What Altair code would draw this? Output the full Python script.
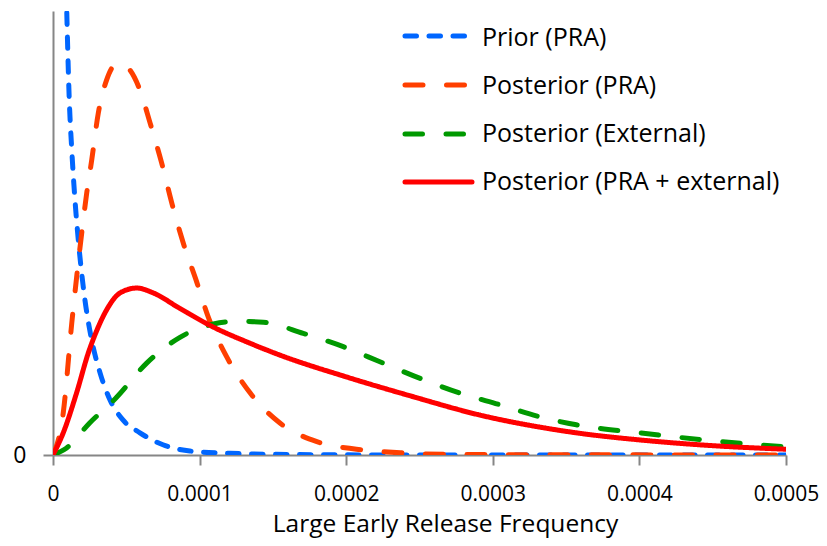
import altair as alt
import pandas as pd

# x values are in units of 1e-4 (scaled below), y in relative density units
prior_x = [0.09, 0.111, 0.128, 0.150, 0.179, 0.218, 0.264, 0.321, 0.389, 0.477, 0.593, 0.750, 0.934, 1.207, 1.68, 2.5, 5.0]
prior_y = [1.05, 0.80, 0.687, 0.574, 0.462, 0.349, 0.259, 0.185, 0.124, 0.079, 0.050, 0.023, 0.009, 0.004, 0.001, 0.0, 0.0]

post_pra_x = [0, 0.07, 0.128, 0.161, 0.196, 0.23, 0.264, 0.309, 0.366, 0.423, 0.48, 0.525, 0.593, 0.662, 0.741, 0.81, 0.889, 0.98, 1.06, 1.185, 1.344, 1.548, 1.80, 2.07, 2.37, 2.8, 5.0]
post_pra_y = [0, 0.095, 0.297, 0.40, 0.50, 0.59, 0.664, 0.77, 0.845, 0.878, 0.88, 0.867, 0.822, 0.748, 0.658, 0.568, 0.477, 0.39, 0.31, 0.221, 0.14, 0.072, 0.03, 0.013, 0.005, 0.001, 0.0]

post_ext_x = [0, 0.093, 0.25, 0.434, 0.639, 0.866, 1.094, 1.25, 1.435, 1.707, 1.98, 2.23, 2.50, 2.78, 3.05, 3.32, 3.57, 4.0, 4.5, 5.0]
post_ext_y = [0, 0.016, 0.072, 0.13, 0.207, 0.265, 0.295, 0.301, 0.299, 0.274, 0.244, 0.21, 0.173, 0.139, 0.113, 0.086, 0.068, 0.05, 0.032, 0.018]

post_all_x = [0, 0.07, 0.161, 0.241, 0.298, 0.366, 0.457, 0.571, 0.684, 0.866, 1.094, 1.32, 1.548, 2.0, 2.46, 2.91, 3.37, 3.59, 4.0, 4.5, 5.0]
post_all_y = [0, 0.05, 0.14, 0.23, 0.28, 0.327, 0.365, 0.376, 0.365, 0.33, 0.288, 0.255, 0.225, 0.176, 0.131, 0.09, 0.06, 0.049, 0.034, 0.021, 0.013]

series_names = ["Prior (PRA)", "Posterior (PRA)", "Posterior (External)", "Posterior (PRA + external)"]
series_colors = ["#0066FF", "#FF3F00", "#009900", "#FF0000"]
series_dashes = [[11.5, 12.5], [18, 23.5], [17.5, 23.5], [1, 0]]
x_ticks = [0, 0.0001, 0.0002, 0.0003, 0.0004, 0.0005]

FONT = "Open Sans"

xs = [prior_x, post_pra_x, post_ext_x, post_all_x]
ys = [prior_y, post_pra_y, post_ext_y, post_all_y]

x_scale = alt.Scale(domain=[0, 0.0005], nice=False, zero=True)
y_scale = alt.Scale(domain=[0, 1], nice=False)

x_axis = alt.Axis(values=x_ticks, labelExpr="datum.value == 0 ? '0' : format(datum.value, '.4f')",
                  title="Large Early Release Frequency", grid=False, domainColor="#868686",
                  domainWidth=2, tickColor="#868686", tickWidth=2, tickSize=10,
                  labelFont=FONT, labelFontSize=21, labelColor="black", labelPadding=18,
                  titleFont=FONT, titleFontSize=24.5, titleFontWeight="normal", titleColor="black",
                  titlePadding=8, titleX=392, titleAlign="center",
                  labelFlush=False, labelOverlap=False)
y_axis = alt.Axis(values=[0], labelExpr="'0'", title=None, grid=False, domainColor="#868686",
                  domainWidth=2, tickColor="#868686", tickWidth=2, tickSize=10,
                  labelFont=FONT, labelFontSize=23, labelColor="black", labelPadding=17)

layers = []
for i, name in enumerate(series_names):
    df = pd.DataFrame({"x": [v * 1e-4 for v in xs[i]], "y": ys[i], "series": name})
    layers.append(
        alt.Chart(df).mark_line(interpolate="monotone", clip=True, strokeWidth=5,
                                strokeCap="round", color=series_colors[i],
                                strokeDash=series_dashes[i]).encode(
            x=alt.X("x:Q", scale=x_scale, axis=x_axis),
            y=alt.Y("y:Q", scale=y_scale, axis=y_axis))
    )

# manual legend
legend_line_y = [25, 74, 123, 171]
legend_text_y = [35, 83, 131, 179]
legend_df = pd.DataFrame({"series": series_names})
for i, name in enumerate(series_names):
    ldf = legend_df.iloc[[i]]
    x2 = 419 if series_dashes[i] == [1, 0] else 413
    layers.append(
        alt.Chart(ldf).mark_rule(strokeWidth=5, strokeCap="round", color=series_colors[i],
                                 strokeDash=series_dashes[i]).encode(
            x=alt.value(352), x2=alt.value(x2), y=alt.value(legend_line_y[i]))
    )
    layers.append(
        alt.Chart(ldf).mark_text(align="left", baseline="alphabetic", font=FONT, fontSize=25,
                                 color="black").encode(
            x=alt.value(429), y=alt.value(legend_text_y[i]), text="series:N")
    )

chart = alt.layer(*layers).properties(
    width=733, height=444,
    autosize=alt.AutoSizeParams(type="none"),
    padding={"left": 45, "top": 3, "right": 33, "bottom": 83},
).configure_view(stroke=None)

chart.save("out.html", embed_options={"renderer": "svg", "actions": False})
